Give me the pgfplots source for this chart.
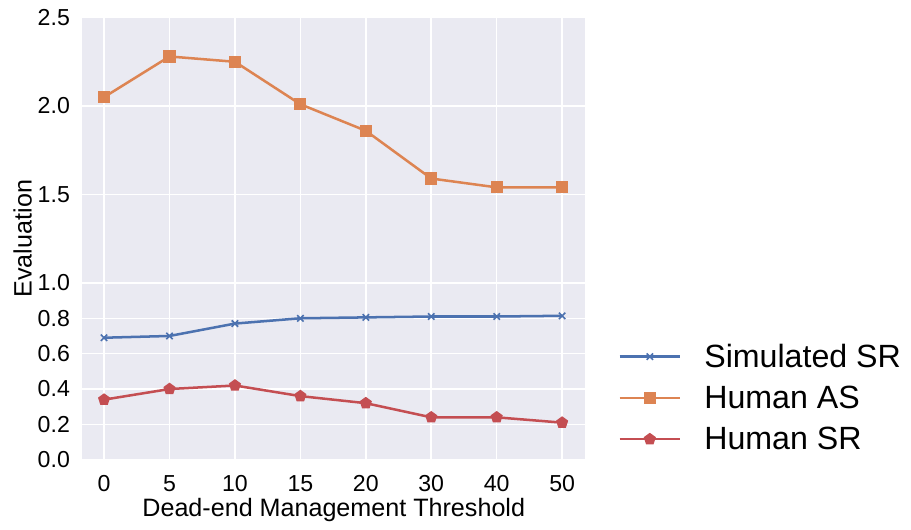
\documentclass[border=0pt]{standalone}
\usepackage{pgfplots}
\pgfplotsset{compat=1.18}
\usepackage{fontspec}
\setmainfont{Liberation Sans}
\definecolor{sbbg}{HTML}{EAEAF2}
\definecolor{sbblue}{HTML}{4C72B0}
\definecolor{sborange}{HTML}{DD8452}
\definecolor{sbred}{HTML}{C44E52}
\begin{document}
\begin{tikzpicture}
\begin{axis}[
  scale only axis,
  width=500pt, height=440pt,
  xmin=-0.33, xmax=7.35,
  ymin=0, ymax=2.5,
  xtick={0,1,2,3,4,5,6,7},
  xticklabels={0,5,10,15,20,30,40,50},
  ytick={0,0.2,0.4,0.6,0.8,1.0,1.5,2.0,2.5},
  y tick label style={/pgf/number format/fixed, /pgf/number format/fixed zerofill, /pgf/number format/precision=1, xshift=-9pt},
  /pgf/number format/assume math mode=true,
  tick label style={font=\fontsize{23}{26}\selectfont},
  x tick label style={yshift=-12pt},
  major tick length=0pt,
  axis line style={draw=none},
  axis background/.style={fill=sbbg},
  grid=major,
  major grid style={white, line width=1.5pt},
  xlabel={Dead-end Management Threshold},
  ylabel={Evaluation},
  label style={font=\fontsize{25}{29}\selectfont},
  ylabel style={yshift=-1pt},
  legend style={at={(1.06,0.01)}, anchor=south west, draw=none, fill=none,
    font=\fontsize{32}{38}\selectfont, row sep=13pt, column sep=21pt},
  legend cell align=left,
  legend image code/.code={\draw[mark repeat=2,mark phase=2] plot coordinates {(0pt,0pt) (30pt,0pt) (60pt,0pt)};},
  every axis plot/.append style={line width=2.5pt},
]
\addplot[color=sbblue, mark=x, mark size=4.5pt, mark options={line width=1.6pt}] coordinates {
(0,0.69) (1,0.70) (2,0.77) (3,0.80) (4,0.805) (5,0.81) (6,0.81) (7,0.814)};
\addlegendentry{Simulated SR}
\addplot[color=sborange, mark=square*, mark size=4.8pt] coordinates {
(0,2.05) (1,2.28) (2,2.25) (3,2.01) (4,1.86) (5,1.59) (6,1.54) (7,1.54)};
\addlegendentry{Human AS}
\addplot[color=sbred, mark=pentagon*, mark size=4.8pt] coordinates {
(0,0.34) (1,0.40) (2,0.42) (3,0.36) (4,0.32) (5,0.24) (6,0.24) (7,0.21)};
\addlegendentry{Human SR}
\end{axis}
\path ([xshift=-10pt,yshift=6pt]current bounding box.north west);
\path ([xshift=5pt,yshift=-4pt]current bounding box.south east);
\end{tikzpicture}
\end{document}
